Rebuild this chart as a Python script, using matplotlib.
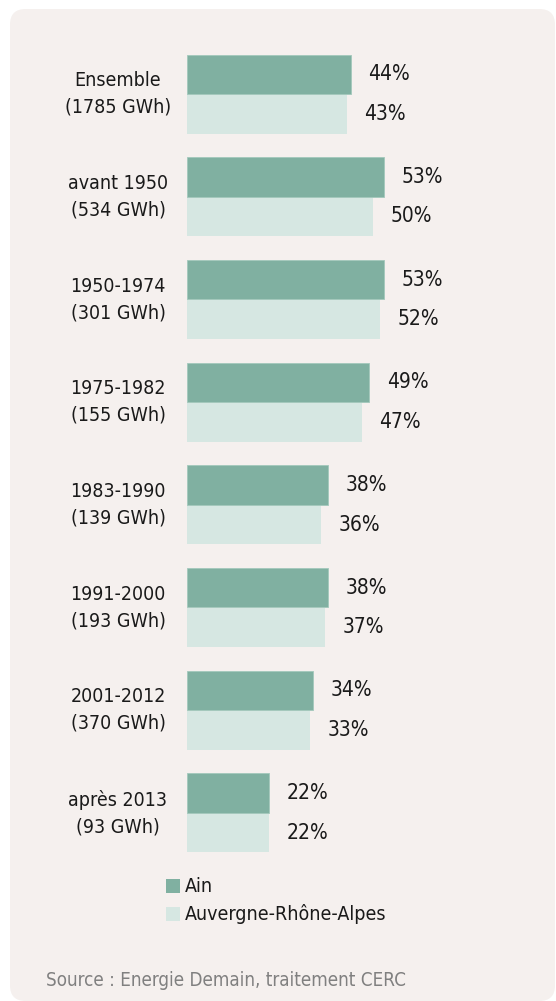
import numpy as np
import matplotlib.pyplot as plt
from matplotlib.patches import FancyBboxPatch

# -----------------------------------------------------------------------------
# Données
# -----------------------------------------------------------------------------
categories = [
    "Ensemble\n(1785 GWh)",
    "avant 1950\n(534 GWh)",
    "1950-1974\n(301 GWh)",
    "1975-1982\n(155 GWh)",
    "1983-1990\n(139 GWh)",
    "1991-2000\n(193 GWh)",
    "2001-2012\n(370 GWh)",
    "après 2013\n(93 GWh)",
]
ain = [44, 53, 53, 49, 38, 38, 34, 22]
ara = [43, 50, 52, 47, 36, 37, 33, 22]
series_labels = ["Ain", "Auvergne-Rhône-Alpes"]
source = "Source : Energie Demain, traitement CERC"

COL_AIN = "#80b0a1"
COL_ARA = "#d6e7e2"
COL_BG = "#f5f0ee"

plt.rcParams["font.family"] = ["Liberation Sans Narrow", "DejaVu Sans"]
plt.rcParams["font.stretch"] = "condensed"

W, H = 556, 1001
fig = plt.figure(figsize=(W / 100, H / 100), dpi=100)
fig.patch.set_facecolor("white")

# fond arrondi
fond = FancyBboxPatch(
    (10 / W, 0.0), (W - 11) / W, (H - 9) / H,
    boxstyle="round,pad=0,rounding_size=0.028",
    transform=fig.transFigure, facecolor=COL_BG, edgecolor="none",
    mutation_aspect=W / H, zorder=-5,
)
fig.patches.append(fond)

# axes sur toute la figure: échelle en % (0 à x=187 px, 3.72 px par %)
x0_px, px_per = 187.0, 3.72
y0_px, pitch = 94.0, 102.7
ax = fig.add_axes([0, 0, 1, 1])
ax.set_zorder(2)
ax.set_xlim(-x0_px / px_per, (W - x0_px) / px_per)
ax.set_ylim((H - y0_px) / pitch, -y0_px / pitch)
ax.axis("off")

y = np.arange(len(categories))
h = 39.5 / pitch
ax.barh(y - h / 2, ain, height=h, color=COL_AIN, edgecolor="#a3c8bc",
        linewidth=0.6, zorder=3)
ax.barh(y + h / 2, ara, height=h, color=COL_ARA, edgecolor="none", zorder=2)

dx = 17.5 / px_per
for i, cat in enumerate(categories):
    ax.text(-69 / px_per, i, cat, ha="center", va="center", fontsize=14,
            linespacing=1.5, color="#1a1a1a")
    ax.text(ain[i] + dx, i - h / 2, f"{ain[i]}%", ha="left", va="center",
            fontsize=15, color="#1a1a1a")
    ax.text(ara[i] + dx, i + h / 2, f"{ara[i]}%", ha="left", va="center",
            fontsize=15, color="#1a1a1a")

# légende
for k, (lab, col) in enumerate(zip(series_labels, [COL_AIN, COL_ARA])):
    top = 879 + 28 * k
    fig.patches.append(plt.Rectangle((166 / W, 1 - (top + 14) / H), 14 / W, 14 / H,
                                     transform=fig.transFigure, facecolor=col,
                                     edgecolor="none"))
    fig.text(185 / W, 1 - (top + 7) / H, lab, ha="left", va="center",
             fontsize=14, color="#1a1a1a")

fig.text(46 / W, 1 - 981 / H, source, ha="left", va="center", fontsize=13.5,
         color="#808080")

fig.savefig("out.png", dpi=100, facecolor=fig.get_facecolor())
